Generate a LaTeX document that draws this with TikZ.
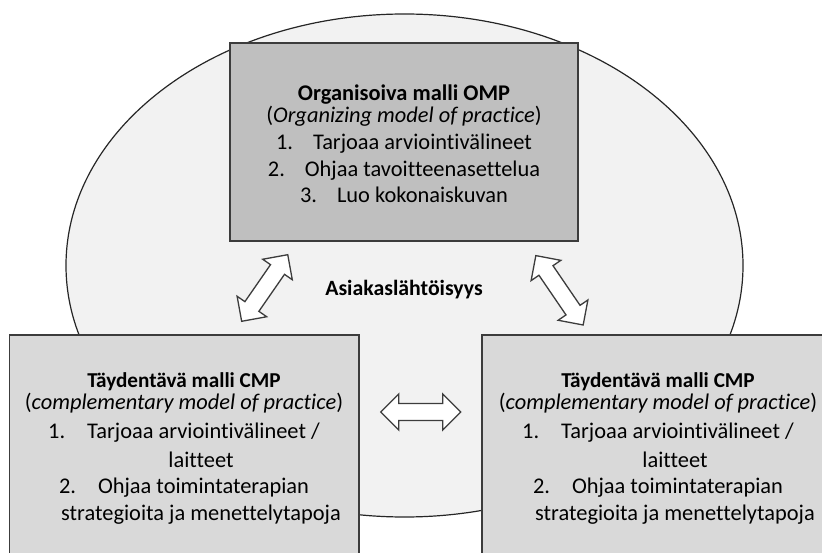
\documentclass[tikz,border=0pt]{standalone}
\usepackage{fontspec}
\setmainfont{Carlito}[Ligatures=NoCommon]
\definecolor{ovalfill}{HTML}{F2F2F2}
\definecolor{ompfill}{HTML}{BFBFBF}
\definecolor{cmpfill}{HTML}{D9D9D9}
\definecolor{edge}{HTML}{3C3C3C}

% double-headed block arrow: centre x, centre y, angle, total length
\newcommand{\dblarrow}[4]{%
  \begin{scope}[shift={(#1,#2)},rotate=#3]
    \draw[arrowbody]
      (-#4/2,0) -- (-#4/2+18,18) -- (-#4/2+18,8.5) -- (#4/2-18,8.5) --
      (#4/2-18,18) -- (#4/2,0) -- (#4/2-18,-18) -- (#4/2-18,-8.5) --
      (-#4/2+18,-8.5) -- (-#4/2+18,-18) -- cycle;
  \end{scope}}
\newcommand{\cmptitle}[1]{{\fontsize{21.2}{27}\selectfont\bfseries #1}}

\begin{document}
\begin{tikzpicture}[x=1pt,y=-1pt,
  every node/.style={font=\fontsize{22.4}{27}\selectfont, text=black},
  modelbox/.style={draw=edge, line width=1.4pt, rectangle, inner sep=0pt},
  boxtext/.style={align=center, inner sep=0pt},
  arrowbody/.style={draw=edge, fill=white, line width=1.3pt, line join=miter}]
  \useasboundingbox (0,0) rectangle (822,553);
  \clip (0,0) rectangle (822,553);

  % shared client-centred background
  \draw[fill=ovalfill, draw=black!85, line width=1.2pt]
    (404.5,265.5) ellipse [x radius=338.5, y radius=251.5];

  % model boxes
  \node[modelbox, fill=ompfill, minimum width=348pt, minimum height=198pt]
    (omp) at (404,142) {};
  \node[modelbox, fill=cmpfill, minimum width=349.5pt, minimum height=265pt]
    (cmpleft) at (184.25,467.5) {};
  \node[modelbox, fill=cmpfill, minimum width=349pt, minimum height=265pt]
    (cmpright) at (656.5,467.5) {};

  % block arrows between the models
  \dblarrow{264.7}{288}{55.3}{81}
  \dblarrow{559.5}{290.3}{-55.7}{84}
  \dblarrow{420.7}{412}{0}{80}

  % texts
  \node[boxtext] (omptext) at (404,144) {%
    \textbf{Organisoiva malli OMP}\\[-5pt]
    (\textit{Organizing model of practice})\\
    1.\hspace{20pt}Tarjoaa arviointivälineet\\
    2.\hspace{20pt}Ohjaa tavoitteenasettelua\\[-1pt]
    3.\hspace{20pt}Luo kokonaiskuvan};

  \node[font=\fontsize{21.8}{27}\selectfont\bfseries] (center) at (404,290) {Asiakaslähtöisyys};

  \node[boxtext] (lefttext) at (184,448.3) {%
    \cmptitle{Täydentävä malli CMP}\\[-4.7pt]
    (\textit{complementary model of practice})\\[2pt]
    1.\hspace{22pt}Tarjoaa arviointivälineet /\\[1.7pt]
    \hspace*{34pt}laitteet\\[-0.7pt]
    2.\hspace{22pt}Ohjaa toimintaterapian\\
    \hspace*{34pt}strategioita ja menettelytapoja};

  \node[boxtext] (righttext) at (658,448.3) {%
    \cmptitle{Täydentävä malli CMP}\\[-4.7pt]
    (\textit{complementary model of practice})\\[2pt]
    1.\hspace{22pt}Tarjoaa arviointivälineet /\\[1.7pt]
    \hspace*{34pt}laitteet\\[-0.7pt]
    2.\hspace{22pt}Ohjaa toimintaterapian\\
    \hspace*{34pt}strategioita ja menettelytapoja};
\end{tikzpicture}
\end{document}
